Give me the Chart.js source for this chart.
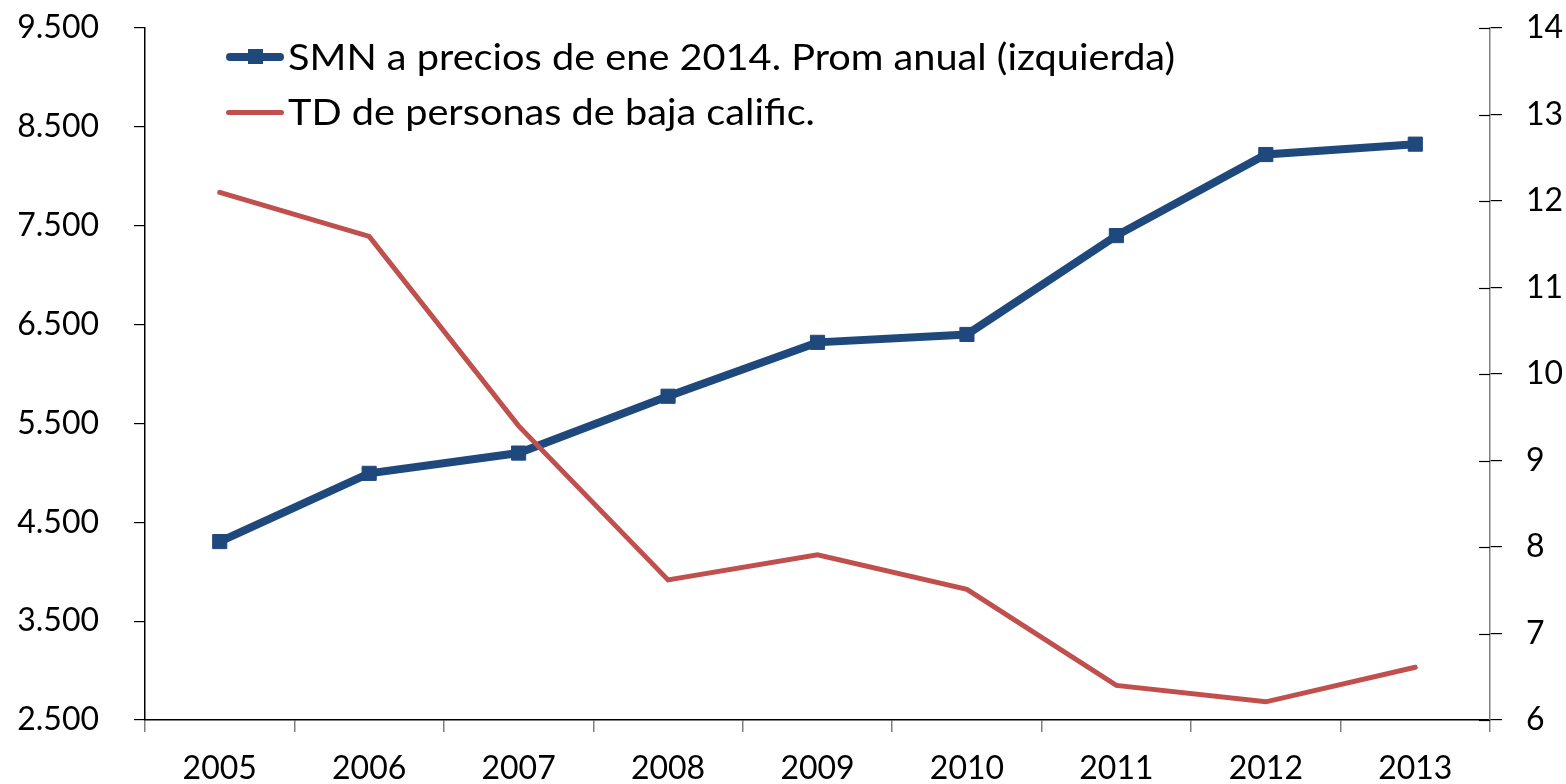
<!DOCTYPE html>
<html>
<head>
<meta charset="utf-8">
<script src="https://cdn.jsdelivr.net/npm/chart.js@4"></script>
<style>
  body { margin: 0; background: #fff; }
  #wrap { position: relative; width: 1566px; height: 784px; }
  #legend { position: absolute; left: 0; top: 0; font-family: Lato, sans-serif; color: #000; }
  .item { position: absolute; left: 226px; height: 50px; }
  .item .txt { position: absolute; left: 62px; white-space: nowrap; font-size: 37px; line-height: 1; transform-origin: 0 0; }
  .swatch { position: absolute; left: 0; width: 58px; border-radius: 5px; }
  .mark { position: absolute; left: 22px; width: 15px; height: 15px; }
</style>
</head>
<body>
<div id="wrap">
  <canvas id="chart" width="1566" height="784"></canvas>
  <div id="legend">
    <div class="item" style="top:33px">
      <div class="swatch" style="top:20px;height:8px;background:#1F497D"></div>
      <div class="mark" style="top:16px;background:#1F497D"></div>
      <div class="txt" style="top:4px">SMN a precios de ene 2014. Prom anual (izquierda)</div>
    </div>
    <div class="item" style="top:88px">
      <div class="swatch" style="top:22px;height:5px;background:#C0504D"></div>
      <div class="txt" style="top:4px">TD de personas de baja calific.</div>
    </div>
  </div>
</div>
<script>
// --- DATA ---
const years = ['2005', '2006', '2007', '2008', '2009', '2010', '2011', '2012', '2013'];
const smnReal = [4305, 4995, 5200, 5775, 6320, 6400, 7400, 8220, 8325];
const tdBajaCalif = [12.1, 11.59, 9.4, 7.62, 7.91, 7.51, 6.4, 6.21, 6.61];

const FONT = { family: 'Lato, sans-serif', size: 32 };

// thousands with a dot, like the original
function fmtMiles(v) {
  return String(v).replace(/\B(?=(\d{3})+(?!\d))/g, '.');
}

// right axis in the original has ticks crossing the line
const crossTicks = {
  id: 'crossTicks',
  afterDraw(chart) {
    const s = chart.scales.y1;
    const ctx = chart.ctx;
    ctx.save();
    ctx.strokeStyle = '#000';
    ctx.lineWidth = 1.2;
    s.ticks.forEach((t, i) => {
      const y = Math.round(s.getPixelForTick(i)) + 0.5;
      ctx.beginPath();
      ctx.moveTo(s.left - 11, y);
      ctx.lineTo(s.left, y);
      ctx.stroke();
    });
    ctx.restore();
  }
};

function fixVertical(width) {
  return s => {
    s.width = width;
    s.paddingTop = 0;
    s.paddingBottom = 0;
  };
}

new Chart(document.getElementById('chart'), {
  type: 'line',
  data: {
    labels: years,
    datasets: [
      {
        label: 'SMN a precios de ene 2014. Prom anual (izquierda)',
        data: smnReal,
        yAxisID: 'y',
        borderColor: '#1F497D',
        backgroundColor: '#1F497D',
        borderWidth: 8,
        pointStyle: 'rect',
        pointRadius: 10,
        pointBorderWidth: 1,
        tension: 0,
        order: 1
      },
      {
        label: 'TD de personas de baja calific.',
        data: tdBajaCalif,
        yAxisID: 'y1',
        borderColor: '#C0504D',
        borderWidth: 5,
        borderCapStyle: 'round',
        pointRadius: 0,
        tension: 0,
        order: 0
      }
    ]
  },
  options: {
    responsive: false,
    devicePixelRatio: 1,
    animation: false,
    layout: { padding: { top: 28, left: 0, right: 0, bottom: 0 } },
    plugins: { legend: { display: false }, tooltip: { enabled: false } },
    scales: {
      x: {
        offset: true,
        grid: { offset: true, drawOnChartArea: false, tickLength: 12, color: '#808080', lineWidth: 1.5 },
        border: { color: '#000', width: 1.5 },
        ticks: { font: FONT, color: '#000', padding: 17, maxRotation: 0 },
        afterFit: s => { s.height = 64; s.paddingLeft = 0; s.paddingRight = 0; }
      },
      y: {
        position: 'left',
        min: 2500, max: 9500,
        ticks: { stepSize: 1000, font: FONT, color: '#000', padding: 35, callback: v => fmtMiles(v) },
        grid: { drawOnChartArea: false, tickLength: 11, color: '#000', lineWidth: 1.2 },
        border: { color: '#000', width: 1.5 },
        afterFit: fixVertical(145)
      },
      y1: {
        position: 'right',
        min: 6, max: 14,
        ticks: { stepSize: 1, font: FONT, color: '#000', padding: 24 },
        grid: { drawOnChartArea: false, tickLength: 12, color: '#000', lineWidth: 1.2 },
        border: { color: '#808080', width: 1.5 },
        afterFit: fixVertical(76)
      }
    }
  },
  plugins: [crossTicks]
});

// squeeze legend text to the narrow width of the original face
window.addEventListener('load', () => {
  const txts = document.querySelectorAll('.txt');
  const w = txts[0].getBoundingClientRect().width;
  const k = 887 / w;
  txts.forEach(t => { t.style.transform = 'scaleX(' + k + ')'; });
});
</script>
</body>
</html>
